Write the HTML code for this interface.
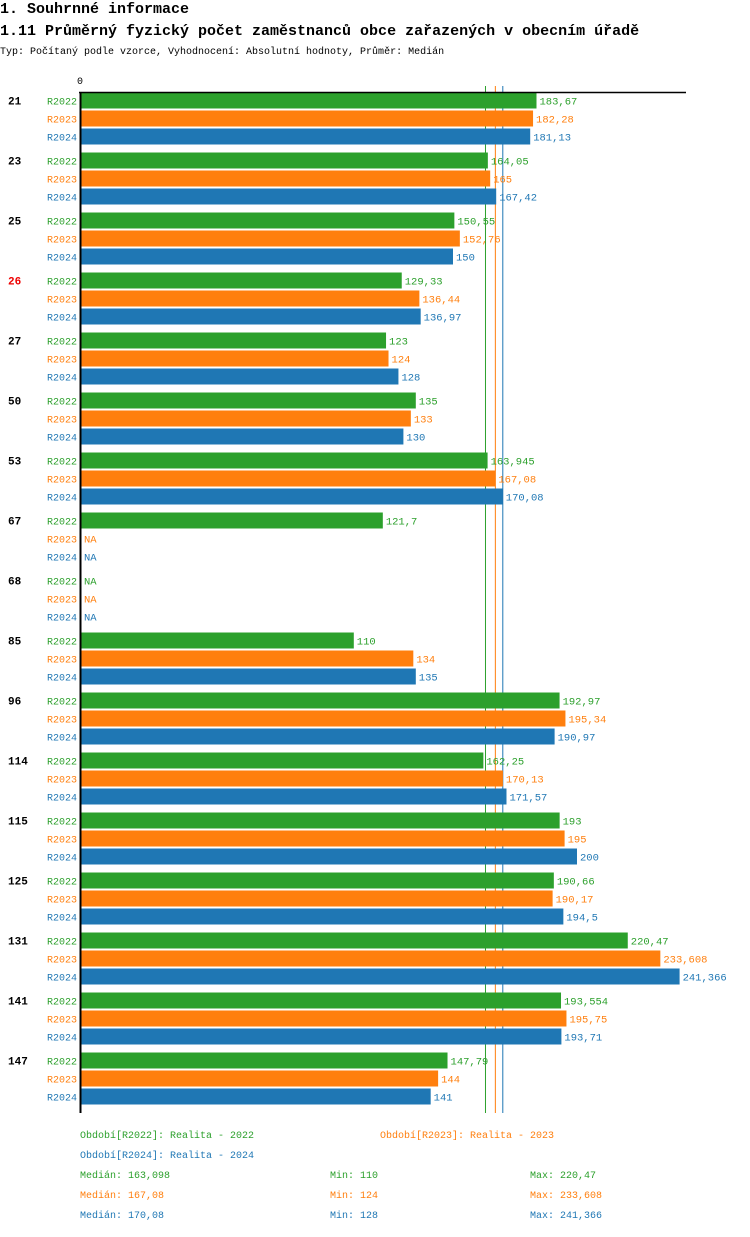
<!DOCTYPE html>
<html><head><meta charset="utf-8"><style>
body{margin:0;background:#fff;width:750px;height:1232px;overflow:hidden}
svg text{font-family:"Liberation Mono","DejaVu Sans Mono",monospace}
</style></head><body>
<svg id="c" width="750" height="1232" xmlns="http://www.w3.org/2000/svg">
<text x="0" y="13" font-size="15" font-weight="bold">1. Souhrnné informace</text>
<text x="0" y="35" font-size="15" font-weight="bold">1.11 Průměrný fyzický počet zaměstnanců obce zařazených v obecním úřadě</text>
<text x="0" y="54" font-size="10">Typ: Počítaný podle vzorce, Vyhodnocení: Absolutní hodnoty, Průměr: Medián</text>
<text x="77" y="84" font-size="10">0</text>
<g id="m"></g>
<g id="g"></g>
<line x1="79" y1="92.5" x2="686" y2="92.5" stroke="#000" stroke-width="1.5"/>
<line x1="80.5" y1="92" x2="80.5" y2="1113" stroke="#000" stroke-width="2"/>
<g font-size="10">
<text x="80" y="1138" fill="#2ca02c">Období[R2022]: Realita - 2022</text>
<text x="380" y="1138" fill="#ff7f0e">Období[R2023]: Realita - 2023</text>
<text x="80" y="1158" fill="#1f77b4">Období[R2024]: Realita - 2024</text>
<text x="80" y="1178" fill="#2ca02c">Medián: 163,098</text>
<text x="330" y="1178" fill="#2ca02c">Min: 110</text>
<text x="530" y="1178" fill="#2ca02c">Max: 220,47</text>
<text x="80" y="1198" fill="#ff7f0e">Medián: 167,08</text>
<text x="330" y="1198" fill="#ff7f0e">Min: 124</text>
<text x="530" y="1198" fill="#ff7f0e">Max: 233,608</text>
<text x="80" y="1218" fill="#1f77b4">Medián: 170,08</text>
<text x="330" y="1218" fill="#1f77b4">Min: 128</text>
<text x="530" y="1218" fill="#1f77b4">Max: 241,366</text>
</g>
</svg>
<script>
const categories=["21","23","25","26","27","50","53","67","68","85","96","114","115","125","131","141","147"];
const series=["R2022","R2023","R2024"];
const v2022=[183.67,164.05,150.55,129.33,123,135,163.945,121.7,null,110,192.97,162.25,193,190.66,220.47,193.554,147.79];
const v2023=[182.28,165,152.76,136.44,124,133,167.08,null,null,134,195.34,170.13,195,190.17,233.608,195.75,144];
const v2024=[181.13,167.42,150,136.97,128,130,170.08,null,null,135,190.97,171.57,200,194.5,241.366,193.71,141];
const medians=[163.098,167.08,170.08];
const highlighted=["26"];
const colors=["#2ca02c","#ff7f0e","#1f77b4"];
const NS="http://www.w3.org/2000/svg";
const x=v=>81+v*2.48;
const yG=i=>92.5+i*60;
const g=document.getElementById('g');
const mg=document.getElementById('m');
function mk(t,a,p){const e=document.createElementNS(NS,t);for(const k in a)e.setAttribute(k,a[k]);(p||g).appendChild(e);return e;}
const fmt=v=>String(v).replace('.',',');
const vals=[v2022,v2023,v2024];
medians.forEach((m,j)=>{
  const l=mk('line',{x1:x(m),x2:x(m),y1:86,y2:1113,stroke:colors[j],'stroke-width':1},mg);
  
  
});
categories.forEach((c,i)=>{
  const t=mk('text',{x:8,y:yG(i)+12,'font-size':11,'font-weight':'bold',fill:highlighted.includes(c)?'#e00':'#000'});
  
  
  t.textContent=c;
  series.forEach((s,j)=>{
    const y0=yG(i)+j*18;
    const l=mk('text',{x:47,y:y0+12,'font-size':10,fill:colors[j]});
    
    
    l.textContent=s;
    const v=vals[j][i];
    if(v!=null){
      const r=mk('rect',{x:81,y:y0,width:x(v)-81,height:16,fill:colors[j]});
      
      
    }
    const vt=mk('text',{x:(v!=null?x(v):81)+3,y:y0+12,'font-size':10.5,fill:colors[j]});
    
    
    vt.textContent=v!=null?fmt(v):'NA';
  });
});
</script>
</body></html>
